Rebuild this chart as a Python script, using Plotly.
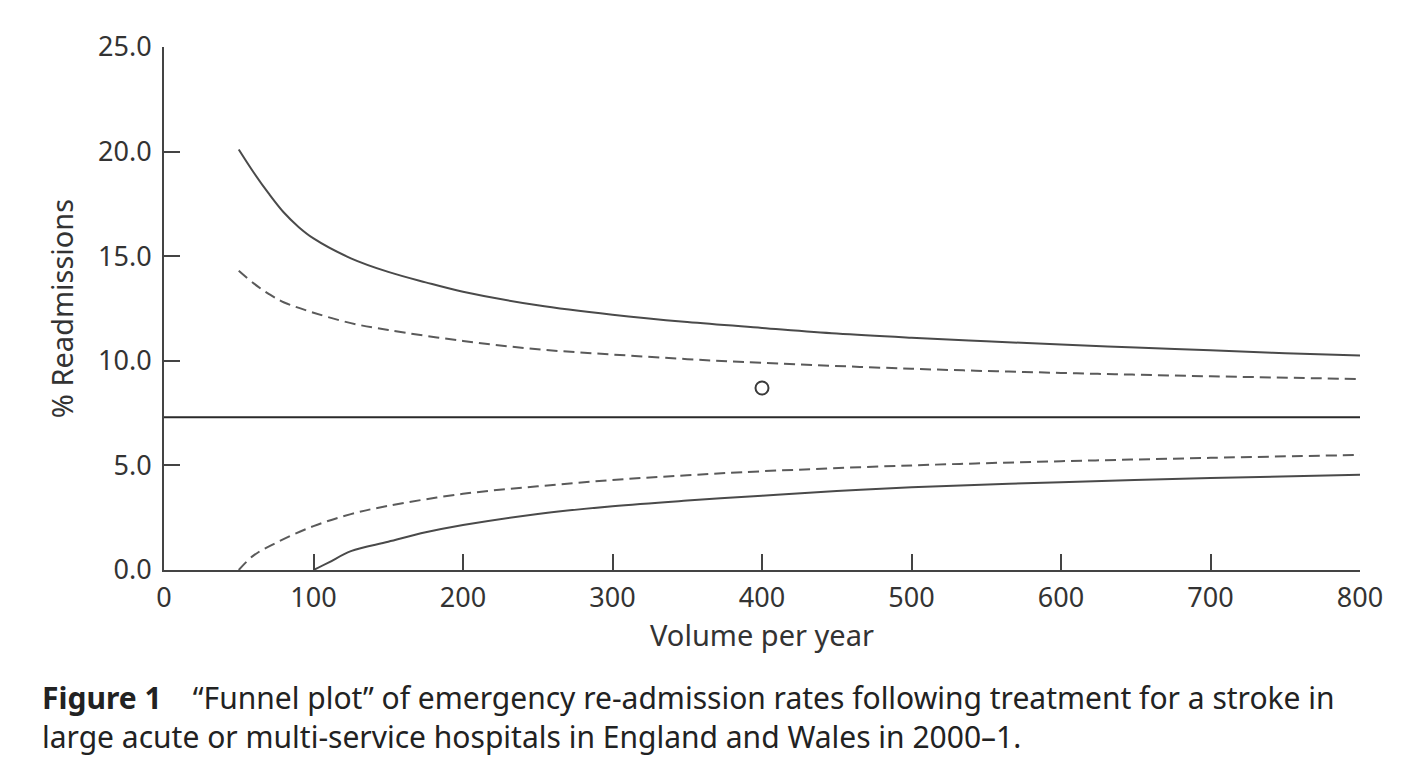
import plotly.graph_objects as go

# Funnel plot data
volume_upper3 = [50, 60, 70, 80, 90, 100, 125, 150, 175, 200, 250, 300, 350, 400, 450, 500, 550, 600, 650, 700, 750, 800]
upper3 = [20.1, 19.0, 18.0, 17.1, 16.4, 15.85, 14.9, 14.25, 13.75, 13.3, 12.65, 12.2, 11.85, 11.57, 11.3, 11.1, 10.93, 10.78, 10.63, 10.5, 10.36, 10.25]

volume_upper2 = [50, 60, 70, 80, 100, 125, 150, 200, 250, 300, 350, 400, 500, 600, 700, 800]
upper2 = [14.3, 13.7, 13.2, 12.8, 12.3, 11.8, 11.47, 10.95, 10.55, 10.3, 10.08, 9.9, 9.62, 9.42, 9.26, 9.13]

volume_lower2 = [50, 60, 75, 100, 125, 150, 200, 250, 300, 350, 400, 500, 600, 700, 800]
lower2 = [0.0, 0.7, 1.3, 2.1, 2.67, 3.07, 3.64, 4.0, 4.3, 4.53, 4.72, 5.0, 5.2, 5.36, 5.5]

volume_lower3 = [100, 110, 125, 150, 175, 200, 250, 300, 350, 400, 450, 500, 600, 700, 800]
lower3 = [0.0, 0.35, 0.9, 1.35, 1.8, 2.15, 2.68, 3.05, 3.32, 3.55, 3.78, 3.95, 4.2, 4.4, 4.55]

mean_volume = [0, 800]
mean_rate = [7.3, 7.3]

hospital_volume = [400]
hospital_rate = [8.7]

x_ticks = [0, 100, 200, 300, 400, 500, 600, 700, 800]
y_ticks = [0, 5, 10, 15, 20, 25]
y_tick_labels = ["0.0", "5.0", "10.0", "15.0", "20.0", "25.0"]

caption_lines = [
    "<b>Figure 1</b>    \u201cFunnel plot\u201d of emergency re-admission rates following treatment for a stroke in",
    "large acute or multi-service hospitals in England and Wales in 2000\u20131.",
]

FONT = "Noto Sans"
fig = go.Figure()

solid = dict(color="#4a4a4a", width=2)
dashed = dict(color="#5a5a5a", width=2, dash="11px,6px")

fig.add_trace(go.Scatter(x=volume_upper3, y=upper3, mode="lines", line=dict(shape="spline", **solid), showlegend=False))
fig.add_trace(go.Scatter(x=volume_upper2, y=upper2, mode="lines", line=dict(shape="spline", **dashed), showlegend=False))
fig.add_trace(go.Scatter(x=mean_volume, y=mean_rate, mode="lines", line=dict(color="#2a2a2a", width=2), showlegend=False))
fig.add_trace(go.Scatter(x=volume_lower2, y=lower2, mode="lines", line=dict(shape="spline", **dashed), showlegend=False))
fig.add_trace(go.Scatter(x=volume_lower3, y=lower3, mode="lines", line=dict(shape="spline", **solid), showlegend=False))
fig.add_trace(go.Scatter(x=hospital_volume, y=hospital_rate, mode="markers",
                         marker=dict(symbol="circle-open", size=13, color="#3a3a3a", line=dict(width=2)),
                         showlegend=False))

fig.update_xaxes(range=[0, 800], tickvals=x_ticks, ticks="inside", ticklen=16, tickwidth=2, tickcolor="#444",
                 showline=True, linecolor="#444", linewidth=2, showgrid=False, zeroline=False,
                 tickfont=dict(family=FONT, size=27, color="#333"), ticklabelstandoff=3,
                 title=dict(text="Volume per year", font=dict(family=FONT, size=29, color="#333"), standoff=8))
fig.update_yaxes(range=[0, 25], tickvals=y_ticks, ticktext=y_tick_labels, ticks="inside", ticklen=16, tickwidth=2,
                 tickcolor="#444", showline=True, linecolor="#444", linewidth=2, showgrid=False, zeroline=False,
                 tickfont=dict(family=FONT, size=27, color="#333"), ticklabelstandoff=5,
                 title=dict(text="% Readmissions", font=dict(family=FONT, size=29, color="#333"), standoff=16))

fig.add_annotation(xref="paper", yref="paper", x=-0.1037, y=-0.281, xanchor="left", yanchor="middle", showarrow=False,
                   align="left", text="<br>".join(caption_lines),
                   font=dict(family=FONT, size=30, color="#222"))

fig.update_layout(width=1402, height=774, margin=dict(l=156, r=50, t=39, b=212),
                  plot_bgcolor="white", paper_bgcolor="white")

fig.write_html("out.html")
